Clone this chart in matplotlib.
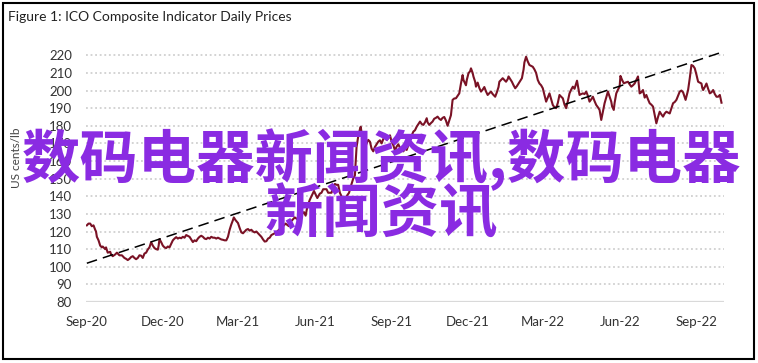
import matplotlib
matplotlib.use("Agg")
import matplotlib.pyplot as plt
from matplotlib.patches import Rectangle
import pandas as pd

# ---------------- data ----------------
start_date = "2020-09-01"
# day offsets from start_date
days = [0, 2, 4, 6, 8, 10, 11, 12, 14, 16, 18, 19, 22, 23, 25, 28, 29, 31, 34, 36,
        37, 39, 42, 43, 45, 47, 49, 51, 53, 55, 57, 59, 61, 63, 65, 67, 69, 71, 73, 75,
        77, 79, 81, 83, 85, 86, 87, 89, 91, 93, 95, 97, 99, 101, 103, 105, 107, 109, 111, 113,
        115, 117, 119, 121, 123, 125, 127, 129, 131, 133, 135, 137, 139, 141, 143, 145, 147, 149, 151, 153,
        155, 157, 159, 161, 163, 165, 167, 169, 171, 173, 175, 176, 178, 181, 183, 185, 187, 189, 191, 193,
        195, 197, 199, 201, 203, 205, 207, 209, 211, 213, 215, 217, 219, 221, 223, 225, 227, 229, 231, 235,
        238, 242, 245, 249, 252, 256, 260, 262, 264, 267, 269, 272, 274, 276, 279, 281, 283, 287, 289, 293,
        295, 297, 299, 301, 303, 305, 307, 309, 311, 314, 317, 319, 321, 322, 323, 325, 327, 328, 329, 330,
        331, 333, 335, 337, 339, 341, 343, 345, 347, 349, 351, 353, 355, 357, 359, 361, 363, 365, 367, 369,
        371, 373, 375, 377, 379, 381, 383, 385, 387, 389, 391, 393, 395, 397, 399, 401, 403, 405, 407, 408,
        410, 412, 414, 416, 418, 420, 422, 424, 426, 428, 430, 432, 434, 436, 438, 440, 442, 444, 446, 448,
        450, 451, 454, 455, 457, 459, 460, 462, 463, 465, 466, 468, 470, 472, 474, 476, 478, 480, 482, 484,
        486, 488, 489, 491, 493, 494, 496, 498, 500, 502, 504, 505, 507, 509, 511, 513, 515, 517, 519, 521,
        523, 524, 526, 528, 530, 532, 534, 536, 538, 540, 542, 544, 546, 548, 550, 552, 554, 556, 558, 560,
        562, 564, 566, 568, 570, 572, 574, 576, 578, 580, 582, 584, 587, 588, 590, 592, 594, 596, 598, 600,
        602, 604, 606, 608, 610, 612, 614, 616, 618, 620, 622, 624, 626, 628, 629, 631, 632, 634, 636, 638,
        639, 641, 643, 645, 648, 650, 652, 654, 656, 658, 660, 662, 664, 666, 668, 670, 672, 674, 676, 678,
        680, 682, 684, 686, 688, 690, 692, 694, 696, 698, 700, 702, 704, 706, 708, 710, 712, 714, 717, 720,
        722, 724, 726, 728, 730, 732, 734, 736, 737, 738, 740, 742, 744, 746, 748, 750, 752, 754, 756, 758,
        760]
prices = [123.5, 124.5, 124.5, 123.0, 123.5, 121.0, 120.0, 117.0, 115.0, 112.0, 111.0, 111.5, 110.0, 111.0, 108.0, 108.5, 107.0, 106.0, 107.0, 108.0,
          107.5, 106.5, 106.5, 106.0, 105.0, 104.5, 103.8, 104.5, 105.5, 106.0, 105.0, 104.3, 105.0, 106.5, 106.3, 105.0, 107.5, 108.0, 109.8, 111.0,
          114.0, 112.0, 110.6, 110.0, 109.7, 112.0, 115.7, 114.0, 112.0, 111.0, 110.6, 111.5, 111.0, 113.0, 115.0, 116.0, 116.8, 116.0, 116.5, 116.2,
          117.0, 116.5, 118.0, 117.5, 117.0, 115.5, 114.0, 115.0, 114.5, 116.0, 117.0, 117.6, 117.0, 116.0, 115.7, 116.5, 116.0, 117.0, 116.5, 116.5,
          116.0, 116.5, 116.0, 115.5, 115.3, 115.0, 115.0, 117.0, 121.0, 124.0, 126.5, 128.0, 126.5, 124.8, 122.0, 119.5, 119.0, 120.0, 121.0, 121.4,
          120.5, 121.0, 120.0, 119.5, 120.0, 119.0, 118.0, 117.0, 115.5, 114.3, 114.5, 116.0, 116.5, 118.0, 118.5, 119.0, 119.4, 120.5, 121.4, 123.0,
          124.5, 123.0, 126.0, 128.0, 127.0, 129.0, 131.0, 129.0, 134.0, 138.0, 140.0, 143.0, 141.0, 139.0, 141.5, 142.0, 144.0, 144.0, 142.0, 142.0,
          145.0, 147.0, 146.5, 146.5, 142.0, 140.0, 139.0, 138.5, 140.0, 142.0, 147.0, 150.0, 151.8, 160.0, 168.0, 174.0, 178.0, 179.5, 176.0, 174.6,
          170.0, 167.0, 170.0, 172.0, 171.0, 167.0, 165.5, 168.0, 169.5, 171.0, 171.8, 170.0, 172.5, 173.5, 172.0, 173.0, 174.6, 171.0, 169.0, 166.0,
          168.2, 169.5, 167.5, 167.0, 165.5, 167.0, 166.3, 169.0, 172.0, 174.5, 176.7, 177.5, 179.5, 181.0, 182.4, 181.0, 180.5, 182.0, 184.3, 182.0,
          180.5, 181.5, 182.4, 184.0, 184.5, 185.2, 184.0, 183.3, 184.5, 185.0, 183.0, 180.0, 183.0, 186.0, 194.7, 195.5, 195.6, 197.0, 198.4, 204.0,
          208.8, 206.0, 203.0, 206.0, 209.8, 211.0, 212.6, 210.0, 207.9, 205.0, 202.2, 204.5, 201.5, 199.4, 200.5, 202.0, 199.5, 197.5, 198.5, 199.4,
          198.0, 197.0, 196.5, 199.0, 202.0, 205.0, 206.0, 207.0, 206.0, 205.0, 206.5, 208.0, 206.5, 205.0, 203.0, 201.3, 202.5, 204.0, 205.5, 207.0,
          212.0, 216.0, 219.2, 216.5, 214.5, 214.0, 213.5, 212.0, 210.0, 206.0, 204.0, 203.0, 201.3, 197.5, 193.7, 196.0, 198.4, 195.0, 191.8, 190.5,
          190.0, 193.0, 197.5, 196.5, 195.6, 192.0, 190.0, 194.0, 198.4, 200.5, 202.2, 201.0, 205.6, 203.0, 197.5, 198.0, 198.4, 198.0, 199.4, 197.0,
          193.7, 195.0, 196.5, 194.0, 191.8, 190.5, 189.0, 183.3, 188.0, 192.8, 196.0, 199.4, 196.5, 193.7, 191.0, 189.0, 193.0, 198.4, 200.5, 202.2,
          208.3, 206.0, 204.1, 204.5, 205.0, 203.5, 202.2, 203.0, 204.0, 206.0, 208.0, 198.4, 199.0, 200.3, 196.0, 197.5, 195.0, 192.8, 192.0, 190.9,
          186.0, 181.4, 185.0, 188.0, 186.5, 185.2, 187.0, 188.0, 187.5, 187.0, 190.0, 192.8, 193.5, 194.7, 197.0, 199.4, 200.0, 199.0, 194.7, 200.3,
          207.0, 214.5, 214.0, 212.6, 209.0, 205.0, 204.5, 204.0, 201.5, 200.3, 202.0, 204.0, 201.0, 198.4, 199.0, 200.3, 198.0, 196.5, 196.5, 197.5,
          193.1]

trend_days = [0, 760]
trend_values = [102.0, 221.7]

y_ticks = [80, 90, 100, 110, 120, 130, 140, 150, 160, 170, 180, 190, 200, 210, 220]
x_tick_dates = ["2020-09-01", "2020-12-01", "2021-03-01", "2021-06-01", "2021-09-01",
                "2021-12-01", "2022-03-01", "2022-06-01", "2022-09-01"]
x_tick_labels = ["Sep-20", "Dec-20", "Mar-21", "Jun-21", "Sep-21",
                 "Dec-21", "Mar-22", "Jun-22", "Sep-22"]

title = "Figure 1: ICO Composite Indicator Daily Prices"
y_label = "US cents/lb"
overlay_line1 = "数码电器新闻资讯,数码电器"
overlay_line2 = "新闻资讯"

# ---------------- figure ----------------
W, H = 758, 363
fig = plt.figure(figsize=(W / 100, H / 100), dpi=100)
fig.patch.set_facecolor("white")

def fx(px):
    return px / W

def fy(py):
    return 1 - py / H

ax_left, ax_right = 86, 724
ax_top, ax_bottom = 46.5, 302
ax = fig.add_axes([fx(ax_left), fy(ax_bottom), fx(ax_right - ax_left), (ax_bottom - ax_top) / H])

t0 = pd.Timestamp(start_date)
dates = [t0 + pd.Timedelta(days=d) for d in days]
trend_dates = [t0 + pd.Timedelta(days=d) for d in trend_days]

ax.set_xlim(t0 - pd.Timedelta(days=1), t0 + pd.Timedelta(days=763))
ax.set_ylim(80, 225)

# grid lines
for v in y_ticks:
    if v == 80:
        ax.axhline(v, color="#d9d9d9", lw=1.6, ls="-", zorder=1)
    else:
        ax.axhline(v, color="#c8c8c8", lw=1.1, ls=(0, (1.2, 1.8)), zorder=1)

ax.plot(dates, prices, color="#7a1225", lw=1.5, zorder=3, solid_joinstyle="round")
ax.plot(trend_dates, trend_values, color="black", lw=1.1, ls=(0, (7, 4)), zorder=4, clip_on=False)

for s in ax.spines.values():
    s.set_visible(False)

font = ["Lato", "DejaVu Sans"]
ax.set_yticks(y_ticks)
ax.set_yticklabels([str(v) for v in y_ticks], fontsize=9.5, color="#333333", family=font)
ax.set_xticks([pd.Timestamp(d) for d in x_tick_dates])
ax.set_xticklabels(x_tick_labels, fontsize=9.5, color="#333333", family=font)
ax.tick_params(axis="both", length=0)
ax.tick_params(axis="y", pad=10)
ax.tick_params(axis="x", pad=10)
ax.set_facecolor("none")

fig.text(fx(17), fy(158), y_label, rotation=90, ha="center", va="center",
         fontsize=8.5, color="#444444", family=font)

fig.text(fx(8), fy(17), title, ha="left", va="center", fontsize=10,
         color="#222222", family=font)

# border
fig.patches.append(Rectangle((fx(3), fy(359)), fx(751), (356) / H, transform=fig.transFigure,
                             fill=False, edgecolor="black", lw=1.5, zorder=10))

# overlay text
cjk = ["Noto Sans CJK SC", "DejaVu Sans"]
fig.text(fx(381), fy(160), overlay_line1, ha="center", va="center", fontsize=42,
         fontweight="bold", color="#8a2be2", family=cjk, zorder=20)
fig.text(fx(381), fy(216), overlay_line2, ha="center", va="center", fontsize=42,
         fontweight="bold", color="#8a2be2", family=cjk, zorder=20)

fig.savefig("out.png", dpi=100)
